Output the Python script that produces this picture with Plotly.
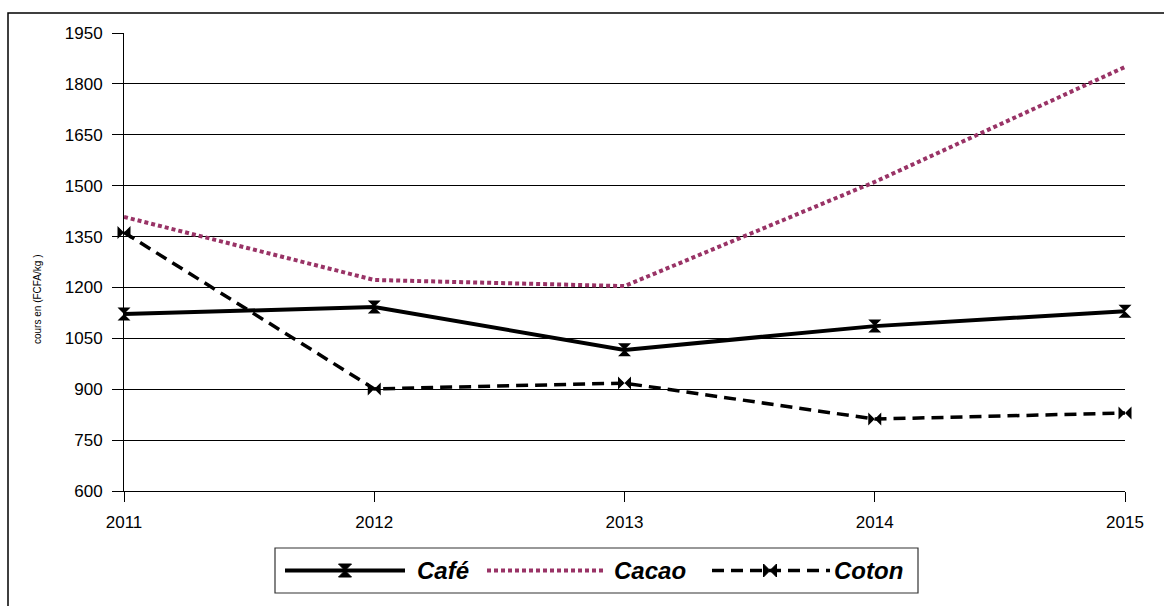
import plotly.graph_objects as go

years = [2011, 2012, 2013, 2014, 2015]
cafe = [1122, 1142, 1016, 1086, 1130]
cacao = [1408, 1222, 1204, 1511, 1850]
coton = [1362, 901, 918, 812, 830]
y_ticks = [600, 750, 900, 1050, 1200, 1350, 1500, 1650, 1800, 1950]
series_names = ["Café", "Cacao", "Coton"]
y_title = "cours en (FCFA/kg )"

W, H = 1164, 606
L, R, T, B = 124, 1125, 33, 491  # plot area pixels


def px(x):
    return (x - L) / (R - L)


def py(y):
    return (B - y) / (B - T)


CACAO_COL = "#993366"

fig = go.Figure()
fig.add_trace(go.Scatter(x=years, y=cacao, mode="lines", name=series_names[1],
                         line=dict(color=CACAO_COL, width=4, dash="4px,3px"),
                         cliponaxis=False, showlegend=False))
fig.add_trace(go.Scatter(x=years, y=coton, mode="lines+markers", name=series_names[2],
                         line=dict(color="black", width=3.5, dash="12px,7px"),
                         marker=dict(symbol="bowtie", size=13, color="black"),
                         cliponaxis=False, showlegend=False))
fig.add_trace(go.Scatter(x=years, y=cafe, mode="lines+markers", name=series_names[0],
                         line=dict(color="black", width=4),
                         marker=dict(symbol="hourglass", size=13, color="black"),
                         cliponaxis=False, showlegend=False))

# custom legend
leg_y = py(570.5)
s = 6.5
hourglass = f"M {-s},{s} L {s},{s} L {-s},{-s} L {s},{-s} Z"
bowtie = f"M {-s},{s} L {-s},{-s} L {s},{s} L {s},{-s} Z"
shapes = [
    dict(type="rect", xref="paper", yref="paper", x0=px(8), x1=1.2, y0=-0.6, y1=py(13),
         line=dict(color="black", width=1.5), fillcolor="rgba(0,0,0,0)"),
    dict(type="rect", xref="paper", yref="paper", x0=px(275), x1=px(918), y0=py(593), y1=py(548),
         line=dict(color="#333333", width=1.2), fillcolor="white"),
    dict(type="line", xref="paper", yref="paper", x0=px(285), x1=px(405), y0=leg_y, y1=leg_y,
         line=dict(color="black", width=4)),
    dict(type="line", xref="paper", yref="paper", x0=px(487), x1=px(605), y0=leg_y, y1=leg_y,
         line=dict(color=CACAO_COL, width=4, dash="4px,3px")),
    dict(type="line", xref="paper", yref="paper", x0=px(712), x1=px(830), y0=leg_y, y1=leg_y,
         line=dict(color="black", width=3.5, dash="12px,7px")),
    dict(type="path", xref="paper", yref="paper", xsizemode="pixel", ysizemode="pixel",
         xanchor=px(345), yanchor=leg_y, path=hourglass, fillcolor="black",
         line=dict(color="black", width=1)),
    dict(type="path", xref="paper", yref="paper", xsizemode="pixel", ysizemode="pixel",
         xanchor=px(770), yanchor=leg_y, path=bowtie, fillcolor="black",
         line=dict(color="black", width=1)),
]

annotations = [
    dict(text=y_title, xref="paper", yref="paper", x=px(37), y=py(300), showarrow=False,
         textangle=-90, font=dict(family="Liberation Sans, Arial", size=10, color="black"),
         xanchor="center", yanchor="middle"),
]
for name, xl in zip(series_names, [415, 612, 832]):
    annotations.append(dict(text=f"<b><i>{name}</i></b>", xref="paper", yref="paper", x=px(xl), y=leg_y,
                            showarrow=False, xanchor="left", yanchor="middle",
                            font=dict(family="Liberation Sans, Arial", size=24, color="black")))

fig.update_layout(
    width=W, height=H,
    margin=dict(l=L, r=W - R, t=T, b=H - B, pad=0),
    paper_bgcolor="white", plot_bgcolor="white",
    font=dict(family="Liberation Sans, Arial", size=17, color="black"),
    xaxis=dict(range=[2011, 2015], tickvals=years, ticktext=[str(y) for y in years],
               showgrid=False, zeroline=False, showline=True, linecolor="black", linewidth=1,
               ticks="outside", ticklen=10, tickcolor="black", ticklabelstandoff=6),
    yaxis=dict(range=[600, 1950], tickvals=y_ticks, showgrid=True, gridcolor="black", gridwidth=1,
               zeroline=False, showline=True, linecolor="black", linewidth=1,
               ticks="outside", ticklen=11, tickcolor="black", ticklabelstandoff=6),
    shapes=shapes,
    annotations=annotations,
    showlegend=False,
)

fig.write_html("out.html")
